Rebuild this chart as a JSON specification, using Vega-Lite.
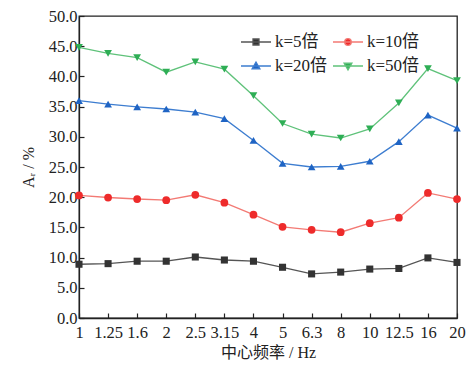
{
  "$schema": "https://vega.github.io/schema/vega-lite/v6.json",
  "width": 378,
  "height": 302,
  "autosize": {"type": "none"},
  "padding": {"left": 79, "top": 16, "right": 14, "bottom": 49},
  "background": "white",
  "config": {
    "view": {"stroke": "#222", "strokeWidth": 1.3},
    "font": "Liberation Serif",
    "axis": {
      "domainColor": "#222",
      "domainWidth": 1.3,
      "tickColor": "#222",
      "tickWidth": 1.2,
      "labelFont": "Liberation Serif",
      "labelFontSize": 16.5,
      "labelColor": "#222",
      "titleFont": "Liberation Serif, Noto Sans CJK SC",
      "titleFontSize": 16,
      "titleFontWeight": "normal",
      "titleColor": "#222",
      "grid": false
    }
  },
  "data": {
    "values": [
      {"f": "1", "k": "k=5倍", "v": 8.9}, {"f": "1.25", "k": "k=5倍", "v": 9.0}, {"f": "1.6", "k": "k=5倍", "v": 9.4}, {"f": "2", "k": "k=5倍", "v": 9.4}, {"f": "2.5", "k": "k=5倍", "v": 10.1}, {"f": "3.15", "k": "k=5倍", "v": 9.6}, {"f": "4", "k": "k=5倍", "v": 9.4}, {"f": "5", "k": "k=5倍", "v": 8.4}, {"f": "6.3", "k": "k=5倍", "v": 7.3}, {"f": "8", "k": "k=5倍", "v": 7.6}, {"f": "10", "k": "k=5倍", "v": 8.1}, {"f": "12.5", "k": "k=5倍", "v": 8.2}, {"f": "16", "k": "k=5倍", "v": 9.95}, {"f": "20", "k": "k=5倍", "v": 9.2},
      {"f": "1", "k": "k=10倍", "v": 20.3}, {"f": "1.25", "k": "k=10倍", "v": 19.95}, {"f": "1.6", "k": "k=10倍", "v": 19.7}, {"f": "2", "k": "k=10倍", "v": 19.5}, {"f": "2.5", "k": "k=10倍", "v": 20.4}, {"f": "3.15", "k": "k=10倍", "v": 19.1}, {"f": "4", "k": "k=10倍", "v": 17.1}, {"f": "5", "k": "k=10倍", "v": 15.1}, {"f": "6.3", "k": "k=10倍", "v": 14.6}, {"f": "8", "k": "k=10倍", "v": 14.2}, {"f": "10", "k": "k=10倍", "v": 15.7}, {"f": "12.5", "k": "k=10倍", "v": 16.6}, {"f": "16", "k": "k=10倍", "v": 20.7}, {"f": "20", "k": "k=10倍", "v": 19.7},
      {"f": "1", "k": "k=20倍", "v": 36.0}, {"f": "1.25", "k": "k=20倍", "v": 35.4}, {"f": "1.6", "k": "k=20倍", "v": 34.95}, {"f": "2", "k": "k=20倍", "v": 34.6}, {"f": "2.5", "k": "k=20倍", "v": 34.1}, {"f": "3.15", "k": "k=20倍", "v": 33.0}, {"f": "4", "k": "k=20倍", "v": 29.4}, {"f": "5", "k": "k=20倍", "v": 25.6}, {"f": "6.3", "k": "k=20倍", "v": 25.0}, {"f": "8", "k": "k=20倍", "v": 25.1}, {"f": "10", "k": "k=20倍", "v": 25.95}, {"f": "12.5", "k": "k=20倍", "v": 29.2}, {"f": "16", "k": "k=20倍", "v": 33.6}, {"f": "20", "k": "k=20倍", "v": 31.45},
      {"f": "1", "k": "k=50倍", "v": 44.8}, {"f": "1.25", "k": "k=50倍", "v": 43.8}, {"f": "1.6", "k": "k=50倍", "v": 43.1}, {"f": "2", "k": "k=50倍", "v": 40.7}, {"f": "2.5", "k": "k=50倍", "v": 42.4}, {"f": "3.15", "k": "k=50倍", "v": 41.2}, {"f": "4", "k": "k=50倍", "v": 36.8}, {"f": "5", "k": "k=50倍", "v": 32.2}, {"f": "6.3", "k": "k=50倍", "v": 30.45}, {"f": "8", "k": "k=50倍", "v": 29.8}, {"f": "10", "k": "k=50倍", "v": 31.3}, {"f": "12.5", "k": "k=50倍", "v": 35.6}, {"f": "16", "k": "k=50倍", "v": 41.3}, {"f": "20", "k": "k=50倍", "v": 39.3}
    ]
  },
  "encoding": {
    "x": {
      "field": "f",
      "type": "ordinal",
      "scale": {"type": "point", "padding": 0, "domain": ["1", "1.25", "1.6", "2", "2.5", "3.15", "4", "5", "6.3", "8", "10", "12.5", "16", "20"]},
      "axis": {"title": "中心频率 / Hz", "labelAngle": 0, "tickSize": -5, "labelPadding": 11, "titlePadding": 4}
    },
    "y": {
      "field": "v",
      "type": "quantitative",
      "scale": {"domain": [0, 50], "nice": false},
      "axis": {"title": "Aᵣ / %", "values": [0, 5, 10, 15, 20, 25, 30, 35, 40, 45, 50], "format": ".1f", "tickSize": -5, "labelPadding": 7, "titlePadding": 12}
    }
  },
  "layer": [
    {
      "mark": {"type": "line", "strokeWidth": 1.3},
      "encoding": {
        "stroke": {
          "field": "k",
          "type": "nominal",
          "scale": {"domain": ["k=5倍", "k=10倍", "k=20倍", "k=50倍"], "range": ["#555555", "#f37a74", "#3d7dd0", "#5fc27a"]},
          "legend": {
            "title": null,
            "orient": "none",
            "direction": "horizontal",
            "legendX": 161,
            "legendY": 10,
            "columns": 2,
            "columnPadding": 2,
            "rowPadding": -15,
            "symbolSize": 900,
            "symbolType": "M-1,0H1",
            "labelOffset": 3,
            "labelFont": "Liberation Serif, Noto Sans CJK SC",
            "labelFontSize": 17,
            "labelColor": "#222",
            "encode": {
              "symbols": {
                "update": {
                  "shape": {"signal": "datum.value === 'k=5倍' ? 'M-1,0H1M-0.2,-0.2H0.2V0.2H-0.2Z' : datum.value === 'k=10倍' ? 'M-1,0H1M0.22,0A0.22,0.22 0 1,1 -0.22,0A0.22,0.22 0 1,1 0.22,0Z' : datum.value === 'k=20倍' ? 'M-1,0H1M0,-0.26L0.26,0.19L-0.26,0.19Z' : 'M-1,0H1M0,0.26L0.26,-0.19L-0.26,-0.19Z'"},
                  "strokeWidth": {"value": 1.3},
                  "fill": {"signal": "datum.value === 'k=5倍' ? '#333333' : datum.value === 'k=10倍' ? '#ee2b2b' : datum.value === 'k=20倍' ? '#1f64c4' : '#2eae55'"},
                  "fillOpacity": {"value": 1},
                  "opacity": {"value": 1}
                }
              }
            }
          }
        }
      }
    },
    {
      "transform": [{"filter": "datum.k === 'k=5倍'"}],
      "mark": {"type": "point", "filled": true, "opacity": 1, "shape": "square", "color": "#333333", "size": 50}
    },
    {
      "transform": [{"filter": "datum.k === 'k=10倍'"}],
      "mark": {"type": "point", "filled": true, "opacity": 1, "shape": "circle", "color": "#ee2b2b", "size": 60}
    },
    {
      "transform": [{"filter": "datum.k === 'k=20倍'"}],
      "mark": {"type": "point", "filled": true, "opacity": 1, "shape": "triangle-up", "color": "#1f64c4", "size": 60}
    },
    {
      "transform": [{"filter": "datum.k === 'k=50倍'"}],
      "mark": {"type": "point", "filled": true, "opacity": 1, "shape": "triangle-down", "color": "#2eae55", "size": 60}
    }
  ]
}
